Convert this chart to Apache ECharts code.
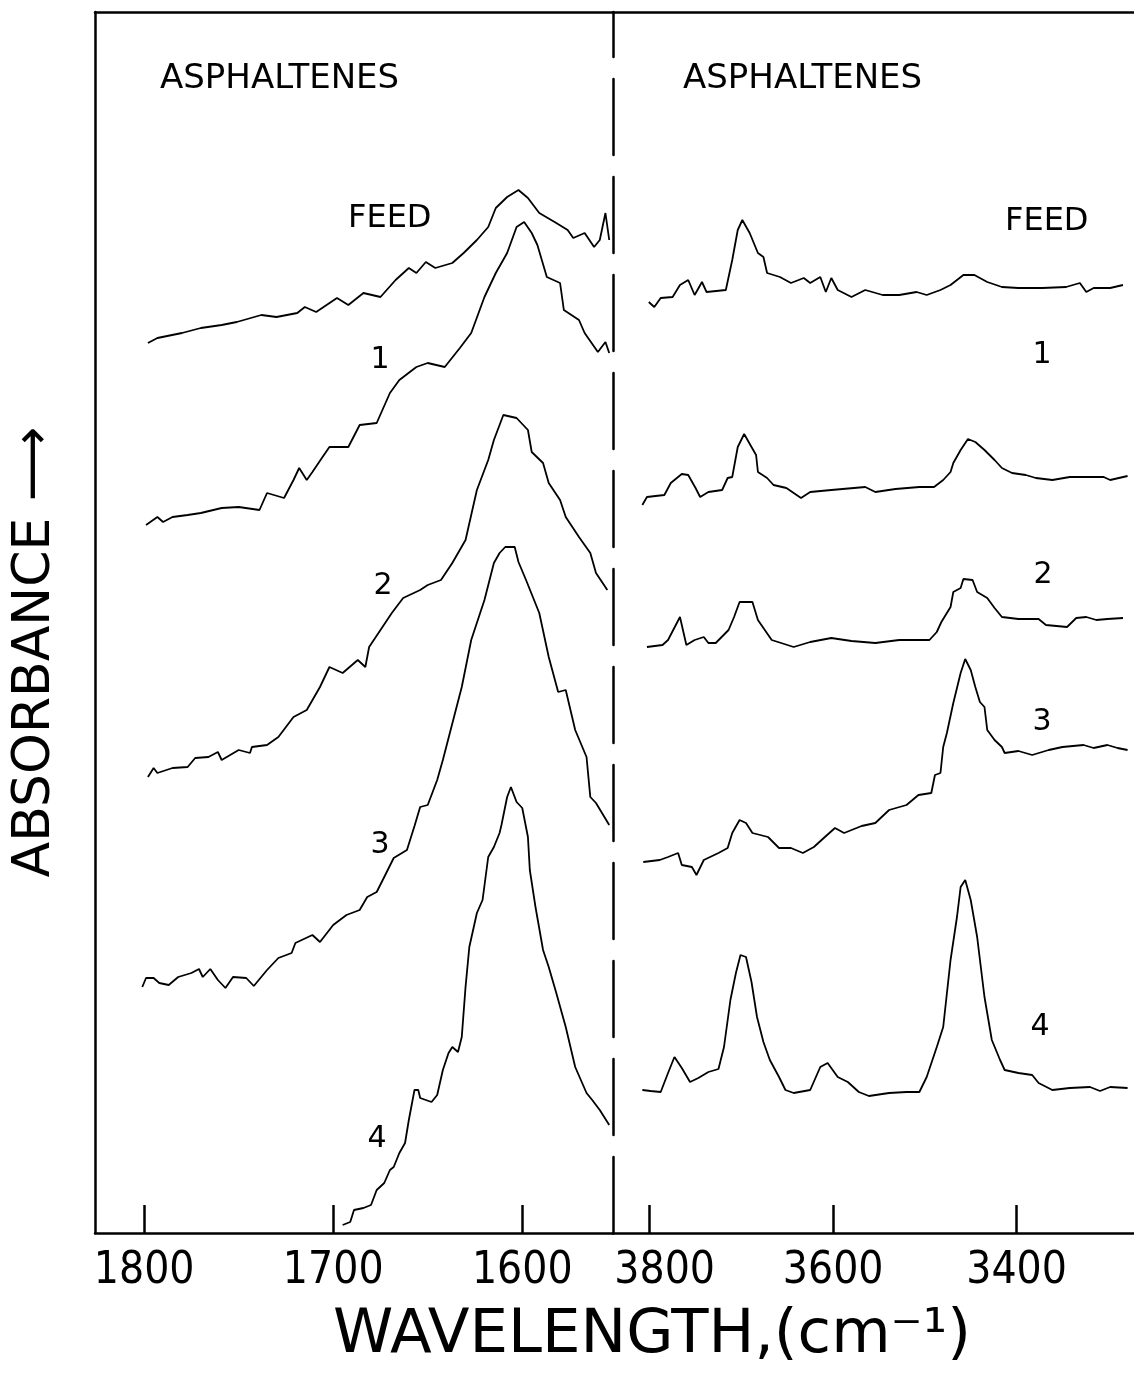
<!DOCTYPE html>
<html>
<head>
<meta charset="utf-8">
<script src="https://cdn.jsdelivr.net/npm/echarts@6/dist/echarts.min.js"></script>
<style>
  html, body { margin: 0; padding: 0; background: #fff; }
  #container { width: 1134px; height: 1373px; }
</style>
</head>
<body>
<div id="container"></div>
<script>
var myChart = echarts.init(document.getElementById('container'));

// tick labels of the two wavenumber scales
var lowTicks = [1800, 1700, 1600];
var highTicks = [3800, 3600, 3400];

// 1800-1550 cm-1 region, [wavenumber, absorbance (arbitrary, offset traces)]
var lowFeed = [[1798,89.0],[1793,89.5],[1780,90.0],[1770,90.5],[1759,90.8],[1751,91.1],[1738,91.8],[1730,91.6],[1719,92.0],[1715,92.6],[1709,92.1],[1698,93.5],[1692,92.8],[1684,94.0],[1675,93.6],[1667,95.3],[1660,96.5],[1656,96.0],[1651,97.1],[1646,96.5],[1637,97.0],[1631,98.0],[1624,99.3],[1618,100.6],[1614,102.5],[1608,103.6],[1602,104.3],[1597,103.5],[1591,102.0],[1582,101.0],[1576,100.3],[1573,99.5],[1567,100.0],[1562,98.6],[1559,99.3],[1556,102.0],[1554,99.3]];
var low1 = [[1799,70.8],[1793,71.6],[1790,71.1],[1785,71.6],[1777,71.8],[1770,72.0],[1759,72.5],[1750,72.6],[1739,72.3],[1735,74.0],[1726,73.5],[1721,75.3],[1718,76.5],[1714,75.3],[1711,76.1],[1706,77.5],[1702,78.6],[1692,78.6],[1686,80.8],[1677,81.0],[1670,84.0],[1665,85.3],[1656,86.6],[1650,87.0],[1641,86.6],[1633,88.5],[1627,90.0],[1620,93.6],[1614,96.0],[1608,98.0],[1603,100.6],[1599,101.1],[1595,100.0],[1592,98.8],[1587,95.6],[1580,95.0],[1578,92.3],[1570,91.3],[1567,90.0],[1560,88.1],[1556,89.1],[1554,88.0]];
var low2 = [[1798,45.6],[1795,46.5],[1793,46.0],[1785,46.5],[1777,46.6],[1773,47.5],[1766,47.6],[1761,48.1],[1759,47.3],[1750,48.3],[1744,48.0],[1743,48.6],[1735,48.8],[1729,49.6],[1721,51.6],[1714,52.3],[1707,54.6],[1702,56.6],[1695,56.0],[1687,57.3],[1683,56.6],[1681,58.6],[1675,60.3],[1669,62.0],[1663,63.5],[1654,64.3],[1650,64.8],[1643,65.3],[1637,67.0],[1630,69.3],[1624,74.3],[1618,77.3],[1615,79.3],[1610,81.8],[1603,81.5],[1597,80.3],[1595,78.1],[1589,77.0],[1586,75.0],[1580,73.3],[1577,71.6],[1570,69.6],[1564,68.0],[1561,66.0],[1555,64.3]];
var low3 = [[1801,24.6],[1799,25.5],[1795,25.5],[1792,25.0],[1787,24.8],[1782,25.6],[1775,26.0],[1771,26.4],[1769,25.6],[1765,26.4],[1761,25.3],[1757,24.5],[1753,25.6],[1746,25.5],[1742,24.7],[1735,26.3],[1729,27.5],[1722,28.0],[1720,29.0],[1711,29.8],[1707,29.1],[1700,30.8],[1693,31.8],[1686,32.3],[1682,33.6],[1677,34.1],[1673,35.6],[1668,37.5],[1661,38.3],[1657,40.7],[1654,42.6],[1650,42.8],[1645,45.3],[1642,47.3],[1632,54.6],[1627,59.3],[1620,63.3],[1615,67.0],[1612,68.0],[1609,68.6],[1604,68.6],[1602,67.1],[1598,65.3],[1591,62.0],[1586,57.6],[1581,54.1],[1577,54.3],[1572,50.3],[1566,47.6],[1564,43.6],[1561,43.0],[1554,40.8]];
var low4 = [[1695,0.8],[1691,1.1],[1689,2.3],[1684,2.5],[1680,2.8],[1677,4.3],[1673,5.0],[1670,6.3],[1668,6.6],[1665,8.0],[1662,9.0],[1660,11.3],[1657,14.3],[1655,14.3],[1654,13.5],[1648,13.1],[1645,13.8],[1642,16.3],[1639,18.0],[1637,18.6],[1634,18.1],[1632,19.6],[1630,24.6],[1628,28.6],[1624,32.0],[1621,33.3],[1618,37.6],[1615,38.6],[1612,40.0],[1611,40.8],[1608,43.6],[1606,44.6],[1603,43.1],[1600,42.5],[1597,39.6],[1596,36.3],[1593,32.6],[1589,28.3],[1586,26.6],[1582,24.0],[1577,20.6],[1572,16.6],[1566,14.0],[1563,13.3],[1559,12.3],[1554,10.8]];

// 3800-3280 cm-1 region
var highFeed = [[3801,93.1],[3795,92.6],[3788,93.5],[3775,93.6],[3767,94.8],[3758,95.3],[3751,93.8],[3743,95.1],[3738,94.1],[3717,94.3],[3710,97.3],[3704,100.3],[3699,101.3],[3691,100.0],[3682,98.0],[3676,97.6],[3672,96.0],[3658,95.6],[3646,95.0],[3632,95.5],[3625,95.0],[3614,95.6],[3608,94.1],[3602,95.5],[3595,94.3],[3580,93.6],[3565,94.3],[3546,93.8],[3528,93.8],[3509,94.1],[3498,93.8],[3483,94.3],[3472,94.8],[3458,95.8],[3446,95.8],[3432,95.1],[3416,94.6],[3398,94.5],[3372,94.5],[3346,94.6],[3331,95.0],[3324,94.1],[3316,94.5],[3298,94.5],[3284,94.8]];
var high1 = [[3808,72.8],[3803,73.6],[3784,73.8],[3777,75.0],[3765,75.9],[3758,75.8],[3750,74.5],[3745,73.6],[3736,74.1],[3721,74.3],[3715,75.5],[3710,75.6],[3704,78.6],[3697,79.9],[3689,78.6],[3684,77.8],[3682,76.1],[3672,75.5],[3665,74.8],[3651,74.5],[3635,73.5],[3625,74.1],[3602,74.3],[3565,74.6],[3554,74.1],[3532,74.4],[3506,74.6],[3490,74.6],[3480,75.3],[3472,76.1],[3469,77.0],[3461,78.3],[3453,79.4],[3445,79.1],[3435,78.3],[3424,77.3],[3416,76.5],[3405,76.0],[3390,75.8],[3379,75.5],[3361,75.3],[3342,75.6],[3327,75.6],[3305,75.6],[3298,75.3],[3279,75.7]];
var high2 = [[3803,58.6],[3786,58.8],[3780,59.3],[3767,61.6],[3760,58.8],[3751,59.3],[3741,59.6],[3736,59.0],[3728,59.0],[3714,60.3],[3708,61.6],[3702,63.1],[3688,63.1],[3682,61.3],[3676,60.5],[3667,59.3],[3643,58.6],[3625,59.1],[3602,59.5],[3580,59.2],[3554,59.0],[3528,59.3],[3495,59.3],[3487,60.1],[3482,61.1],[3472,62.6],[3469,64.1],[3461,64.5],[3458,65.4],[3448,65.3],[3443,64.1],[3432,63.5],[3424,62.5],[3416,61.6],[3398,61.4],[3376,61.4],[3368,60.8],[3345,60.6],[3335,61.5],[3324,61.6],[3313,61.3],[3301,61.4],[3284,61.5]];
var high3 = [[3807,37.1],[3789,37.3],[3780,37.6],[3769,38.0],[3765,36.8],[3754,36.6],[3749,35.8],[3741,37.3],[3725,38.0],[3715,38.5],[3710,40.0],[3702,41.3],[3695,41.0],[3688,40.0],[3671,39.6],[3659,38.5],[3646,38.5],[3633,38.0],[3621,38.6],[3609,39.6],[3598,40.5],[3588,40.0],[3569,40.7],[3554,41.0],[3539,42.3],[3520,42.8],[3507,43.8],[3493,44.0],[3489,45.8],[3483,46.0],[3480,48.6],[3476,50.0],[3469,53.0],[3461,56.0],[3456,57.4],[3450,56.3],[3445,54.6],[3440,53.1],[3435,52.6],[3432,50.3],[3424,49.3],[3416,48.6],[3413,48.0],[3398,48.2],[3383,47.8],[3365,48.3],[3350,48.6],[3327,48.8],[3316,48.5],[3301,48.8],[3290,48.5],[3279,48.3]];
var high4 = [[3808,14.3],[3799,14.2],[3788,14.1],[3780,16.0],[3773,17.6],[3765,16.5],[3756,15.1],[3747,15.5],[3736,16.1],[3725,16.4],[3719,18.6],[3712,23.3],[3706,26.0],[3701,27.8],[3695,27.6],[3689,25.1],[3683,21.6],[3676,19.1],[3669,17.3],[3659,15.6],[3652,14.3],[3643,14.0],[3625,14.3],[3614,16.6],[3606,17.0],[3595,15.6],[3584,15.1],[3572,14.1],[3561,13.7],[3539,14.0],[3520,14.1],[3506,14.1],[3498,15.6],[3487,18.6],[3480,20.6],[3472,27.3],[3465,31.6],[3461,34.6],[3456,35.3],[3450,33.3],[3443,29.6],[3435,23.6],[3427,19.3],[3418,17.3],[3413,16.3],[3398,16.0],[3383,15.8],[3376,15.0],[3361,14.3],[3342,14.5],[3320,14.6],[3309,14.2],[3298,14.6],[3279,14.5]];

var lowTraces = [lowFeed, low1, low2, low3, low4];
var highTraces = [highFeed, high1, high2, high3, high4];
var traceNames = ['FEED', '1', '2', '3', '4'];

var ink = '#000';
var textFont = 'DejaVu Sans';
var tickFont = '"Liberation Sans Narrow", "DejaVu Sans Condensed", "DejaVu Sans", sans-serif';

function xAxisFor(gridIndex, min, max, ticks, pos) {
  var bottom = pos === 'bottom';
  return {
    type: 'value', gridIndex: gridIndex, position: pos,
    min: min, max: max, inverse: true,
    axisLine: { show: true, onZero: false, lineStyle: { color: ink, width: 2.5 } },
    axisTick: { show: bottom, inside: true, length: 28, customValues: ticks, lineStyle: { color: ink, width: 2.5 } },
    axisLabel: {
      show: bottom, customValues: ticks, margin: 17,
      color: ink, fontFamily: tickFont, fontSize: 44,
      formatter: function (v) { return v === 3800 ? '{s|' + v + '}' : '' + v; },
      rich: { s: { padding: [0, 0, 0, 30], color: ink, fontFamily: tickFont, fontSize: 44 } }
    },
    splitLine: { show: false }
  };
}

function yAxisFor(gridIndex, dashed) {
  return {
    type: 'value', gridIndex: gridIndex, min: 0, max: 122.1,
    axisLine: { show: true, onZero: false, lineStyle: { color: ink, width: 2.5, type: dashed ? [76, 22] : 'solid' } },
    axisTick: { show: false }, axisLabel: { show: false }, splitLine: { show: false }
  };
}

var series = [];
lowTraces.forEach(function (d, i) {
  series.push({ name: 'low ' + traceNames[i], type: 'line', xAxisIndex: 0, yAxisIndex: 0, data: d,
    showSymbol: false, lineStyle: { color: ink, width: 1.8 } });
});
highTraces.forEach(function (d, i) {
  series.push({ name: 'high ' + traceNames[i], type: 'line', xAxisIndex: 1, yAxisIndex: 1, data: d,
    showSymbol: false, lineStyle: { color: ink, width: 1.8 } });
});

function label(text, x, y, size, align) {
  return { type: 'text', x: x, y: y, style: { text: text, fill: ink, font: size + 'px ' + textFont,
    align: align || 'center', verticalAlign: 'middle' } };
}

var option = {
  backgroundColor: '#fff',
  animation: false,
  grid: [
    { left: 95, top: 12, width: 518, height: 1221 },
    { left: 613, top: 12, width: 521, height: 1221 }
  ],
  xAxis: [
    xAxisFor(0, 1552, 1826, lowTicks, 'bottom'),
    xAxisFor(1, 3272, 3840, highTicks, 'bottom'),
    xAxisFor(0, 1552, 1826, [], 'top'),
    xAxisFor(1, 3272, 3840, [], 'top')
  ],
  yAxis: [yAxisFor(0, false), yAxisFor(1, true)],
  series: series,
  graphic: [
    label('ASPHALTENES', 160, 79, 34, 'left'),
    label('ASPHALTENES', 683, 79, 34, 'left'),
    label('FEED', 348, 219, 32, 'left'),
    label('FEED', 1005, 222, 32, 'left'),
    label('1', 380, 360, 30), label('1', 1042, 355, 30),
    label('2', 383, 586, 30), label('2', 1043, 575, 30),
    label('3', 380, 845, 30), label('3', 1042, 722, 30),
    label('4', 377, 1139, 30), label('4', 1040, 1027, 30),
    { type: 'text', x: 35, y: 652, rotation: Math.PI / 2,
      style: { text: 'ABSORBANCE ⟶', fill: ink, font: '52px ' + textFont, align: 'center', verticalAlign: 'middle' } },
    label('WAVELENGTH,(cm⁻¹)', 652, 1336, 61)
  ]
};

myChart.setOption(option);
</script>
</body>
</html>
